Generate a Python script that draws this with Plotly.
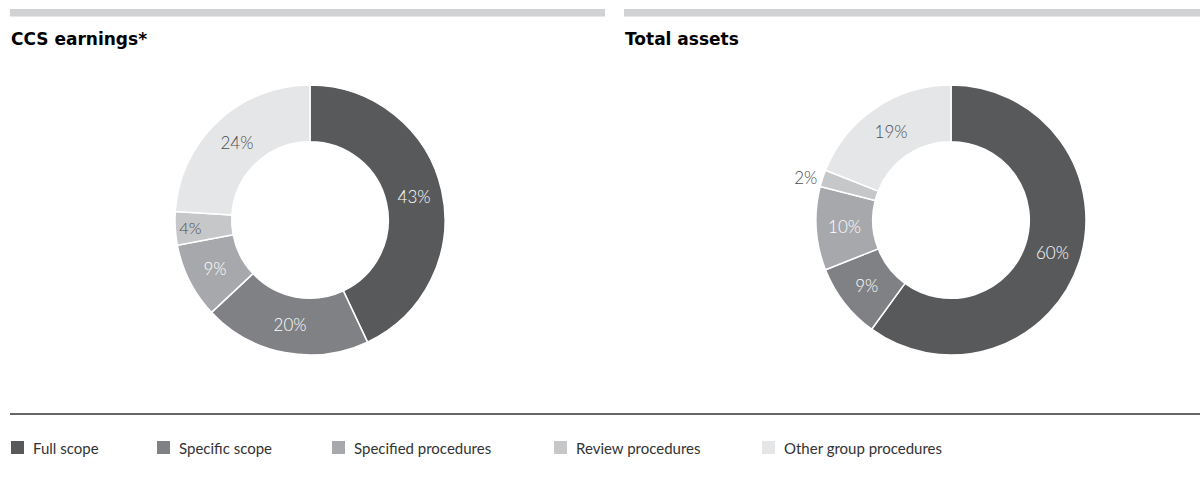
import plotly.graph_objects as go

categories = ["Full scope", "Specific scope", "Specified procedures", "Review procedures", "Other group procedures"]
ccs_earnings = [43, 20, 9, 4, 24]
total_assets = [60, 9, 10, 2, 19]
chart_titles = ["CCS earnings*", "Total assets"]

colors = ["#58595b", "#808184", "#a7a8ab", "#c6c7c9", "#e5e6e7"]
label_colors = ["#ffffff", "#ffffff", "#ffffff", "#4d4e50", "#4d4e50"]

W, H = 1200, 478
FONT = "Lato"

def pie(values, xdom, ydom, positions):
    return go.Pie(
        labels=categories, values=values, sort=False, direction="clockwise", rotation=0,
        hole=0.58, domain=dict(x=xdom, y=ydom),
        marker=dict(colors=colors, line=dict(color="#ffffff", width=1.5)),
        texttemplate="%{value}%", textinfo="text", textposition=positions,
        insidetextorientation="horizontal",
        insidetextfont=dict(color=label_colors, size=17, family=FONT, weight=300),
        outsidetextfont=dict(color="#4d4e50", size=17, family=FONT, weight=300),
        showlegend=False, hoverinfo="label+value",
    )

ydom = [(H - 355) / H, (H - 85) / H]
fig = go.Figure()
fig.add_trace(pie(ccs_earnings, [175 / W, 445 / W], ydom, ["inside"] * 5))
fig.add_trace(pie(total_assets, [815 / W, 1087 / W], ydom,
                  ["inside", "inside", "inside", "outside", "inside"]))

shapes = [
    dict(type="rect", xref="paper", yref="paper", x0=10 / W, x1=605 / W, y0=1 - 16.5 / H, y1=1 - 9 / H,
         fillcolor="#d1d2d4", line=dict(width=0)),
    dict(type="rect", xref="paper", yref="paper", x0=624 / W, x1=1, y0=1 - 16.5 / H, y1=1 - 9 / H,
         fillcolor="#d1d2d4", line=dict(width=0)),
    dict(type="line", xref="paper", yref="paper", x0=10 / W, x1=1, y0=1 - 414 / H, y1=1 - 414 / H,
         line=dict(color="#333333", width=1.5)),
]
annotations = []
for tx, t in zip([9, 623], chart_titles):
    annotations.append(dict(text=f"<b>{t}</b>", x=tx / W, y=1 - 27 / H, xref="paper", yref="paper",
                            xanchor="left", yanchor="top", showarrow=False,
                            font=dict(family="DejaVu Sans", size=17, color="#000000")))

legend_x = [11, 157, 332, 554, 762]
for lx, cat, col in zip(legend_x, categories, colors):
    shapes.append(dict(type="rect", xref="paper", yref="paper", x0=lx / W, x1=(lx + 13) / W,
                       y0=1 - 454 / H, y1=1 - 441 / H, fillcolor=col, line=dict(width=0)))
    annotations.append(dict(text=cat, x=(lx + 20) / W, y=1 - 447.5 / H, xref="paper", yref="paper",
                            xanchor="left", yanchor="middle", showarrow=False,
                            font=dict(family=FONT, size=15, color="#333333")))

fig.update_layout(
    width=W, height=H, margin=dict(l=0, r=0, t=0, b=0),
    paper_bgcolor="#ffffff", plot_bgcolor="#ffffff",
    shapes=shapes, annotations=annotations,
)
fig.write_html("out.html")
